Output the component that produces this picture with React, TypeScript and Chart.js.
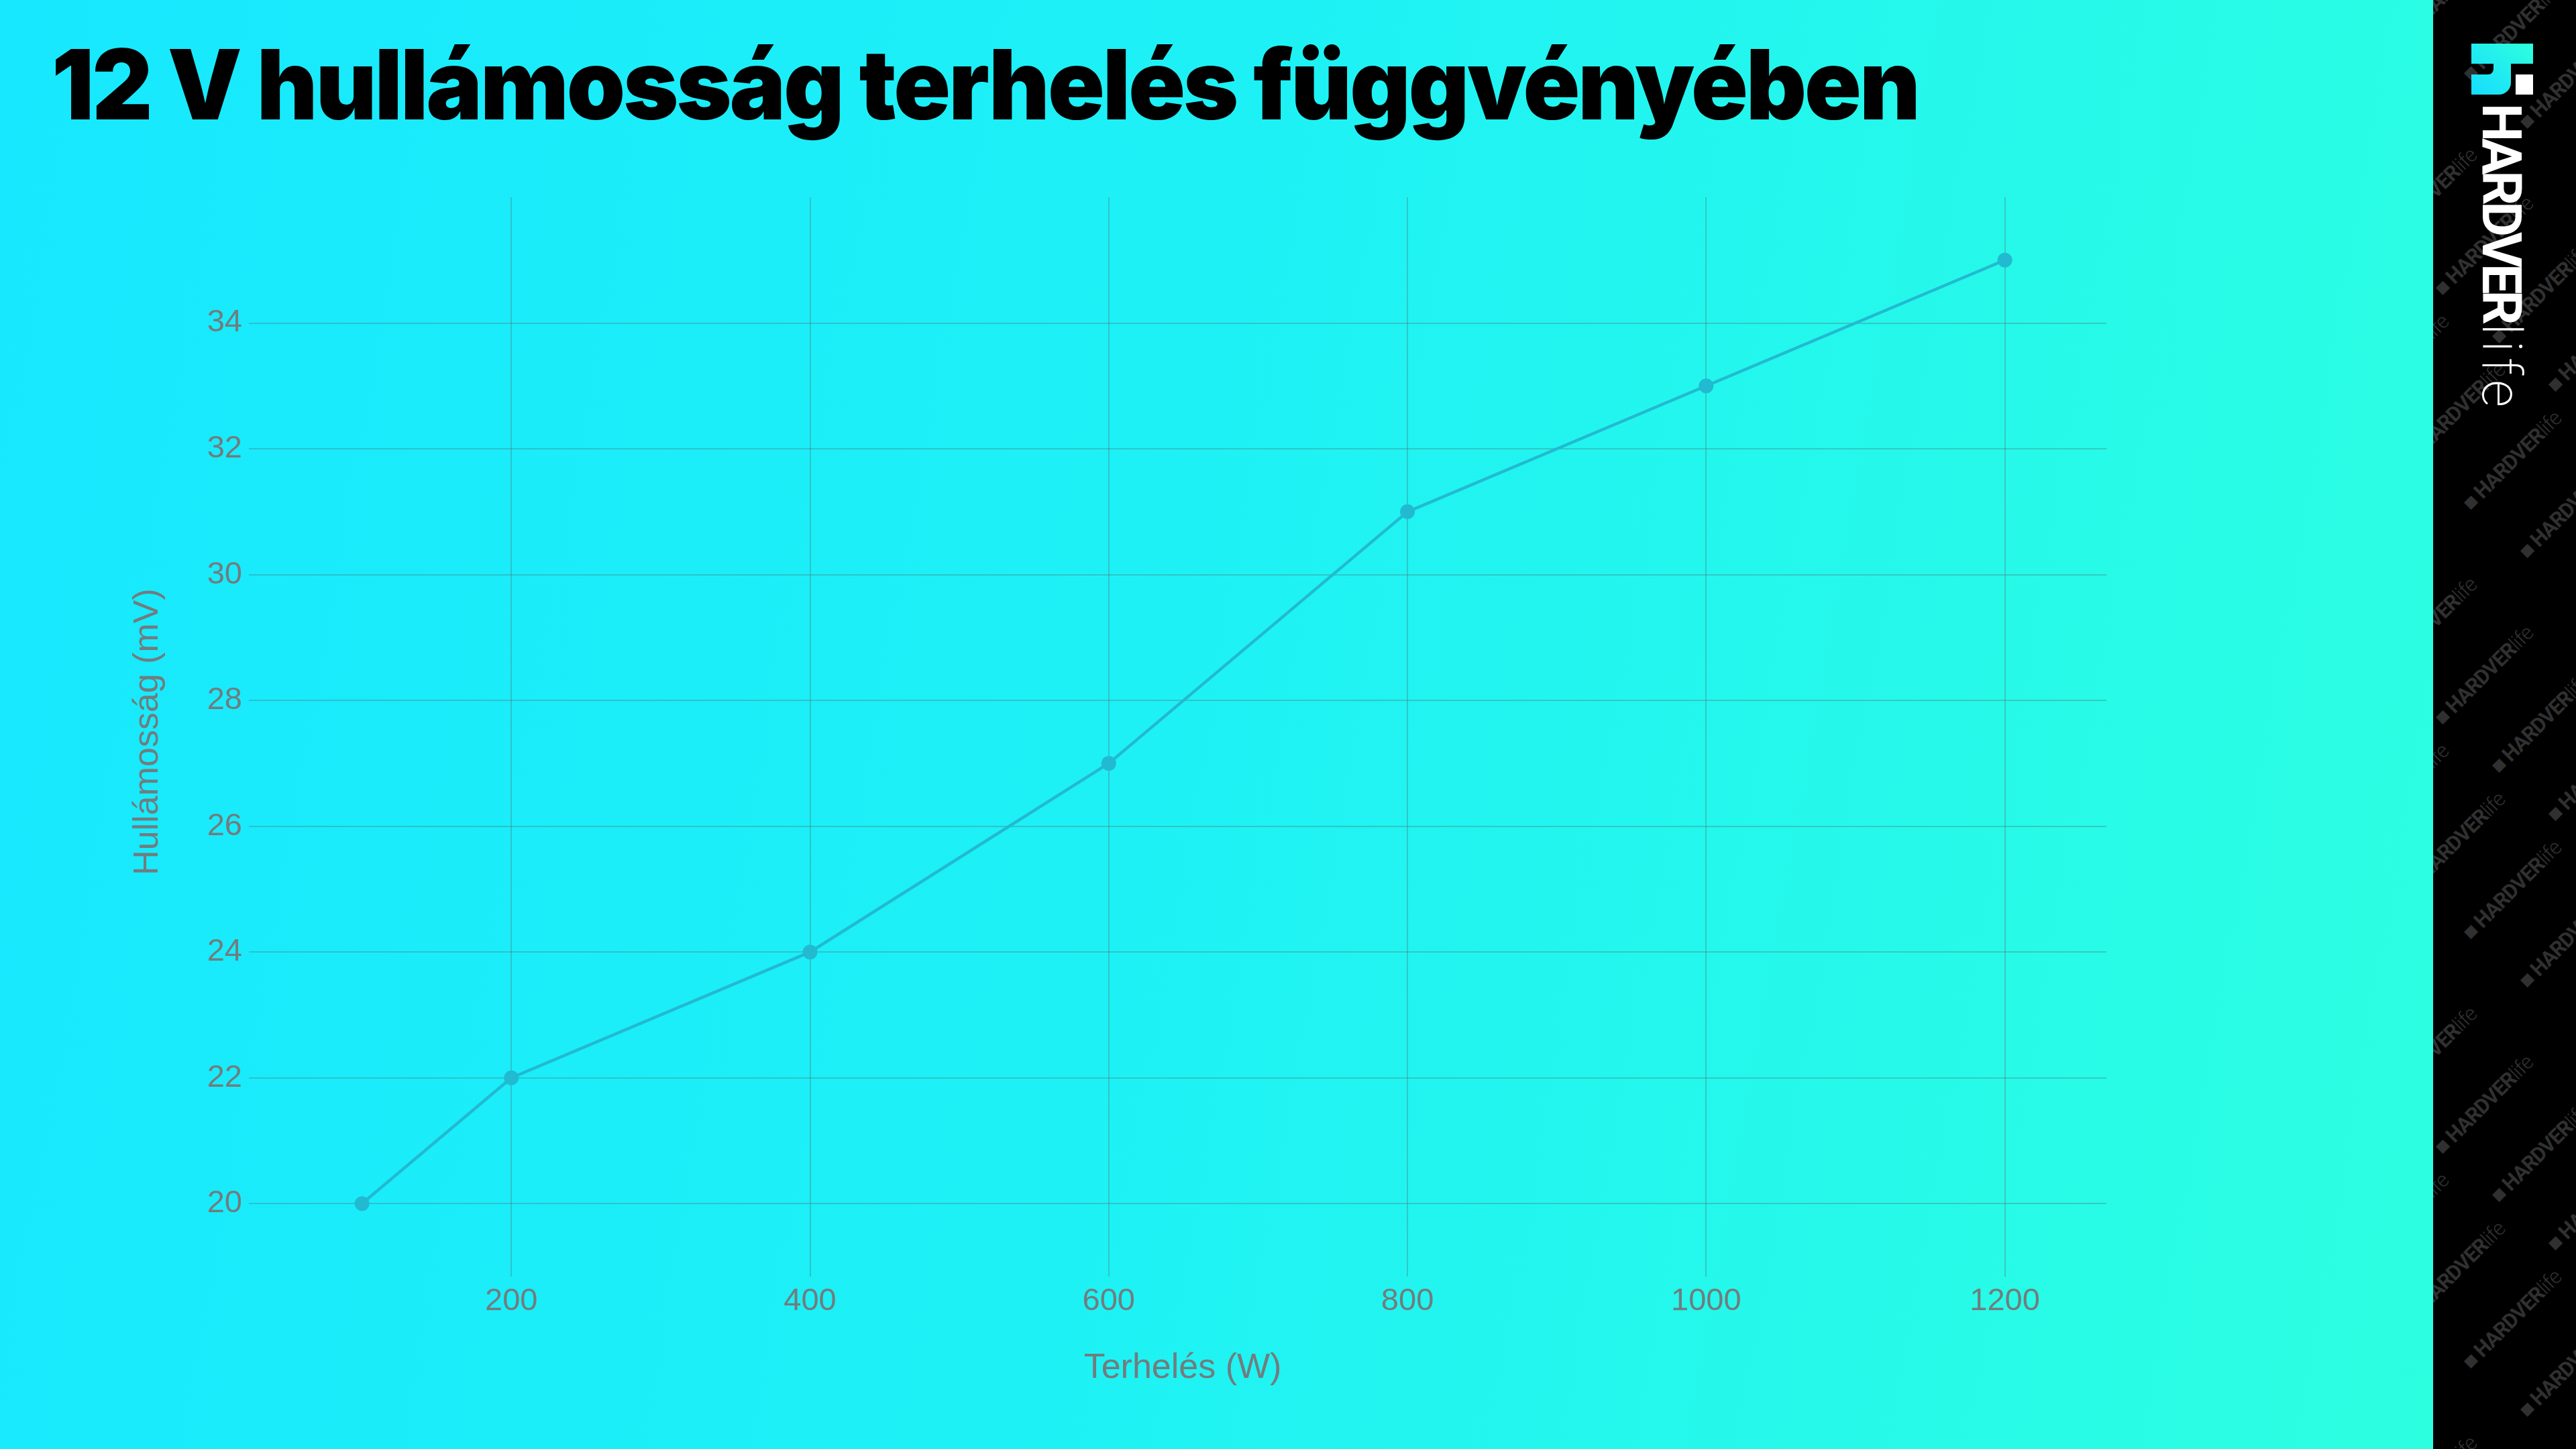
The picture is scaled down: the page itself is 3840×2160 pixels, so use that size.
import React, { useEffect, useLayoutEffect, useRef } from "react";
import { Chart, registerables } from "chart.js";

Chart.register(...registerables);

// ---- data ----
const loads = [100, 200, 400, 600, 800, 1000, 1200];
const ripple = [20, 22, 24, 27, 31, 33, 35];
const xTickValues = [200, 400, 600, 800, 1000, 1200];
const yTickValues = [20, 22, 24, 26, 28, 30, 32, 34];
const titleText = "12 V hullámosság terhelés függvényében";
const xTitle = "Terhelés (W)";
const yTitle = "Hullámosság (mV)";
const brandBold = "HARDVER";
const brandThin = "life";

// ---- style ----
const W = 3840;
const H = 2160;
const SIDEBAR_X = 3627;
const lineColor = "#22BAD1";
const gridColor = "rgba(80,105,110,0.32)";
const tickColor = "#727c7e";
const axisFont = "'Liberation Sans', Arial, sans-serif";

function Watermarks() {
  const items: { x: number; y: number }[] = [];
  for (let j = -1; j < 8; j++) {
    for (let i = 0; i < 8; i++) {
      items.push({ x: -130 + i * 84 - (j % 2) * 42, y: -40 + i * 72 + j * 320 });
    }
  }
  return (
    <>
      {items.map((p, k) => (
        <div
          key={k}
          style={{
            position: "absolute",
            left: p.x,
            top: p.y,
            transform: "rotate(-45deg)",
            transformOrigin: "left top",
            whiteSpace: "nowrap",
            color: "#303030",
            fontFamily: "Roboto, sans-serif",
            fontSize: 31,
            lineHeight: 1,
            letterSpacing: -1,
          }}
        >
          <span style={{ fontWeight: 900 }}>■ </span>
          <span style={{ fontWeight: 700 }}>{brandBold}</span>
          <span style={{ fontWeight: 300 }}>{brandThin}</span>
        </div>
      ))}
    </>
  );
}

export default function App() {
  const canvasRef = useRef<HTMLCanvasElement | null>(null);
  const titleRef = useRef<HTMLSpanElement | null>(null);

  useLayoutEffect(() => {
    const fit = () => {
      const el = titleRef.current;
      if (!el) return;
      el.style.transform = "none";
      const w = el.offsetWidth;
      if (w > 0) el.style.transform = `scaleX(${2783 / w})`;
    };
    fit();
    if ((document as any).fonts && (document as any).fonts.ready) {
      (document as any).fonts.ready.then(fit);
    }
  }, []);

  useEffect(() => {
    const canvas = canvasRef.current;
    if (!canvas) return;
    const chart = new Chart(canvas, {
      type: "line",
      data: {
        datasets: [
          {
            data: loads.map((x, i) => ({ x, y: ripple[i] })),
            borderColor: lineColor,
            backgroundColor: lineColor,
            borderWidth: 4.5,
            pointRadius: 11,
            pointBackgroundColor: lineColor,
            pointBorderWidth: 0,
            tension: 0,
            fill: false,
          },
        ],
      },
      options: {
        animation: false,
        responsive: false,
        maintainAspectRatio: false,
        devicePixelRatio: 1,
        layout: { padding: { top: 294, right: SIDEBAR_X - 3140, left: 0, bottom: 0 } },
        plugins: {
          legend: { display: false },
          tooltip: { enabled: false },
          title: { display: false },
        },
        scales: {
          x: {
            type: "linear",
            min: 31,
            max: 1268,
            afterBuildTicks: (axis: any) => {
              axis.ticks = xTickValues.map((v) => ({ value: v }));
            },
            afterFit: (axis: any) => {
              axis.height = H - 1888;
            },
            grid: { color: gridColor, lineWidth: 2, tickLength: 15, tickColor: gridColor },
            border: { display: false },
            ticks: {
              color: tickColor,
              padding: 9,
              font: { family: axisFont, size: 47 },
              maxRotation: 0,
              callback: (v: any) => String(v),
            },
            title: {
              display: true,
              text: xTitle,
              color: tickColor,
              font: { family: axisFont, size: 52 },
              padding: { top: 0, bottom: 89 },
            },
          },
          y: {
            type: "linear",
            min: 19.0,
            max: 36.0,
            afterBuildTicks: (axis: any) => {
              axis.ticks = yTickValues.map((v) => ({ value: v }));
            },
            afterFit: (axis: any) => {
              axis.width = 386;
            },
            grid: { color: gridColor, lineWidth: 2, tickLength: 15, tickColor: gridColor },
            border: { display: false },
            ticks: {
              color: tickColor,
              padding: 10,
              font: { family: axisFont, size: 47 },
              callback: (v: any) => String(v),
            },
            title: {
              display: true,
              text: yTitle,
              color: tickColor,
              font: { family: axisFont, size: 52 },
              padding: { top: 189, bottom: 0 },
            },
          },
        },
      },
    } as any);
    return () => chart.destroy();
  }, []);

  return (
    <div
      style={{
        position: "fixed",
        left: 0,
        top: 0,
        width: W,
        height: H,
        overflow: "hidden",
        background: "linear-gradient(100deg, #17E8FF 0%, #1EF1F5 45%, #2CFFE0 95%)",
      }}
    >
      <div
        style={{
          position: "absolute",
          left: 77,
          top: 53,
          whiteSpace: "nowrap",
          fontFamily: "Inter, 'Open Sans', sans-serif",
          fontWeight: 900,
          fontSize: 145,
          lineHeight: 1,
          color: "#000",
          letterSpacing: -3,
        }}
      >
        <span ref={titleRef} style={{ display: "inline-block", transformOrigin: "left top" }}>
          {titleText}
        </span>
      </div>

      <canvas
        ref={canvasRef}
        width={SIDEBAR_X}
        height={H}
        style={{ position: "absolute", left: 0, top: 0, width: SIDEBAR_X, height: H }}
      />

      <div
        style={{
          position: "absolute",
          left: SIDEBAR_X,
          top: 0,
          width: W - SIDEBAR_X,
          height: H,
          background: "#000",
          overflow: "hidden",
        }}
      >
        <Watermarks />
        <svg
          style={{ position: "absolute", left: 3684 - SIDEBAR_X, top: 65 }}
          width={92}
          height={76}
          viewBox="0 0 92 76"
        >
          <defs>
            <linearGradient id="lg" x1="0" y1="1" x2="1" y2="0">
              <stop offset="0%" stopColor="#16DCFF" />
              <stop offset="100%" stopColor="#2EFFDD" />
            </linearGradient>
          </defs>
          <path
            d="M0,0 H92 V30 H59 V58 A18,18 0 0 1 41,76 H0 V46 H25 A8,8 0 0 0 33,38 V30 H0 Z"
            fill="url(#lg)"
          />
          <rect x={66} y={46} width={26} height={30} fill="#fff" />
        </svg>
        <div
          style={{
            position: "absolute",
            left: 3769 - SIDEBAR_X,
            top: 154,
            transform: "rotate(90deg)",
            transformOrigin: "left top",
            whiteSpace: "nowrap",
            color: "#fff",
            fontFamily: "Roboto, sans-serif",
            fontSize: 81,
            lineHeight: 1,
          }}
        >
          <span style={{ fontWeight: 700, letterSpacing: -6 }}>{brandBold}</span>
          <span style={{ fontWeight: 200, letterSpacing: 8, marginLeft: 4 }}>{brandThin}</span>
        </div>
      </div>
    </div>
  );
}
